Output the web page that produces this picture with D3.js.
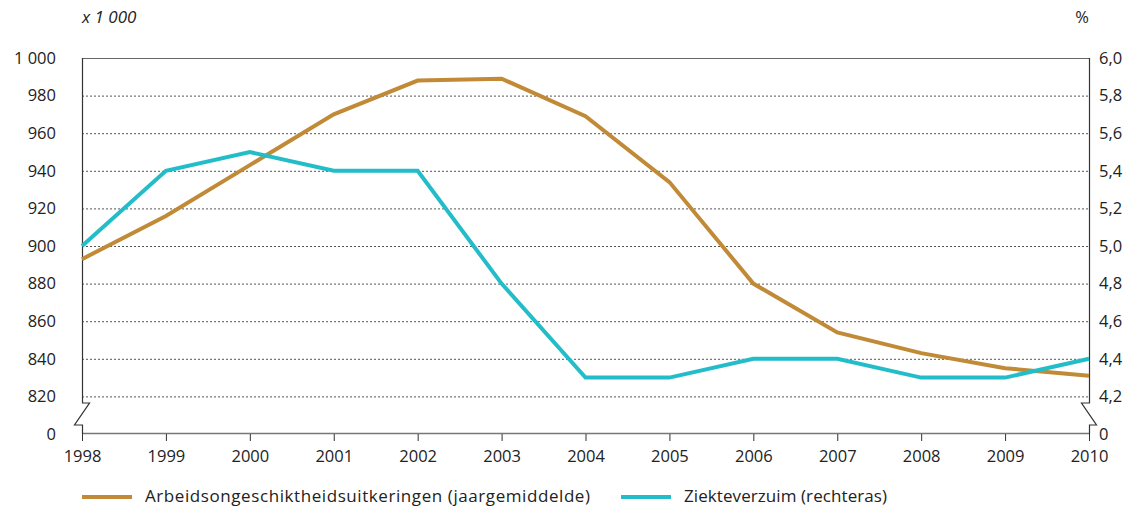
<!DOCTYPE html>
<html><head><meta charset="utf-8">
<script src="https://cdn.jsdelivr.net/npm/d3@7"></script>
<style>
body{margin:0;background:#fff;}
svg text{font-family:"Open Sans","Noto Sans",sans-serif;fill:#222;}
</style></head><body>
<svg id="c" width="1126" height="506"></svg>
<script>
const years = [1998,1999,2000,2001,2002,2003,2004,2005,2006,2007,2008,2009,2010];
const aoValues = [893,916,943,970,988,989,969,934,880,854,843,835,831];
const verzuimValues = [5.0,5.4,5.5,5.4,5.4,4.8,4.3,4.3,4.4,4.4,4.3,4.3,4.4];
const leftTicks = [800,820,840,860,880,900,920,940,960,980,1000];
const leftTickLabels = ["0","820","840","860","880","900","920","940","960","980","1 000"];
const rightTicks = [4.0,4.2,4.4,4.6,4.8,5.0,5.2,5.4,5.6,5.8,6.0];
const rightTickLabels = ["0","4,2","4,4","4,6","4,8","5,0","5,2","5,4","5,6","5,8","6,0"];
const seriesNames = ["Arbeidsongeschiktheidsuitkeringen (jaargemiddelde)","Ziekteverzuim (rechteras)"];
const colors = ["#C18A37","#22BDC8"];

const svg = d3.select("#c");
const L=82, R=1089, T=58, B=434;
const x = d3.scaleLinear().domain([1998,2010]).range([L,R]);
const yL = d3.scaleLinear().domain([800,1000]).range([B,T]);
const yR = d3.scaleLinear().domain([4.0,6.0]).range([B,T]);
const FF = '"Open Sans","Noto Sans",sans-serif';

// gridlines
svg.append("g").selectAll("line").data(leftTicks.filter(v=>v>800&&v<1000)).join("line")
  .attr("x1",L).attr("x2",R).attr("y1",d=>yL(d)+0.5).attr("y2",d=>yL(d)+0.5)
  .attr("stroke","#555").attr("stroke-width",1).attr("stroke-dasharray","2,2");
// top frame
svg.append("line").attr("x1",L).attr("x2",R).attr("y1",T+0.5).attr("y2",T+0.5).attr("stroke","#666").attr("stroke-width",1.2);
// bottom axis line
svg.append("line").attr("x1",L).attr("x2",R).attr("y1",B-0.5).attr("y2",B-0.5).attr("stroke","#777").attr("stroke-width",1.5);

// x ticks
const xAxis = d3.axisBottom(x).tickValues(years).tickFormat(d3.format("d")).tickSize(7).tickPadding(9);
const gx = svg.append("g").attr("transform",`translate(0,${B})`).call(xAxis);
gx.select(".domain").remove();
gx.selectAll(".tick line").attr("stroke","#333");
gx.selectAll("text").attr("font-size",16.5).style("font-family",FF).attr("fill","#222");

// left axis labels
const yLAxis = d3.axisLeft(yL).tickValues(leftTicks).tickFormat((d,i)=>leftTickLabels[i]).tickSize(0).tickPadding(26);
const gl = svg.append("g").attr("transform",`translate(${L},0)`).call(yLAxis);
gl.select(".domain").remove();
gl.selectAll("text").attr("font-size",16.5).style("font-family",FF).attr("fill","#222");
const yRAxis = d3.axisRight(yR).tickValues(rightTicks).tickFormat((d,i)=>rightTickLabels[i]).tickSize(0).tickPadding(10);
const gr = svg.append("g").attr("transform",`translate(${R},0)`).call(yRAxis);
gr.select(".domain").remove();
gr.selectAll("text").attr("font-size",16.5).style("font-family",FF).attr("fill","#222");

// vertical axis lines with break
const bTop2 = 403, bBot2 = 425;
svg.append("path").attr("fill","none").attr("stroke","#333").attr("stroke-width",1.2)
  .attr("d",`M${L+0.5},${T} V${bTop2} H${L+7.5} L${L-7.5},${bBot2} H${L+0.5} V${B}`);
svg.append("path").attr("fill","none").attr("stroke","#333").attr("stroke-width",1.2)
  .attr("d",`M${R+0.5},${T} V${bTop2} H${R-7.5} L${R+7.5},${bBot2} H${R+0.5} V${B}`);

// lines
const lineL = d3.line().x((d,i)=>x(years[i])).y(d=>yL(d));
const lineR = d3.line().x((d,i)=>x(years[i])).y(d=>yR(d));
svg.append("path").datum(aoValues).attr("d",lineL).attr("fill","none").attr("stroke",colors[0]).attr("stroke-width",4).attr("stroke-linejoin","miter");
svg.append("path").datum(verzuimValues).attr("d",lineR).attr("fill","none").attr("stroke",colors[1]).attr("stroke-width",4).attr("stroke-linejoin","miter");

// unit labels
svg.append("text").attr("x",82).attr("y",23).attr("font-size",17).attr("font-style","italic").attr("text-anchor","start").text("x 1 000");
svg.append("text").attr("x",1082).attr("y",23).attr("font-size",16.5).attr("text-anchor","middle").text("%");

// legend
const legX = [82,621];
const legW = [445,203];
seriesNames.forEach((n,i)=>{
  svg.append("line").attr("x1",legX[i]).attr("x2",legX[i]+50).attr("y1",497).attr("y2",497).attr("stroke",colors[i]).attr("stroke-width",4);
  svg.append("text").attr("x",legX[i]+63).attr("y",502).attr("font-size",17)
    .attr("textLength",legW[i]).attr("lengthAdjust","spacing").text(n);
});
</script></body></html>
